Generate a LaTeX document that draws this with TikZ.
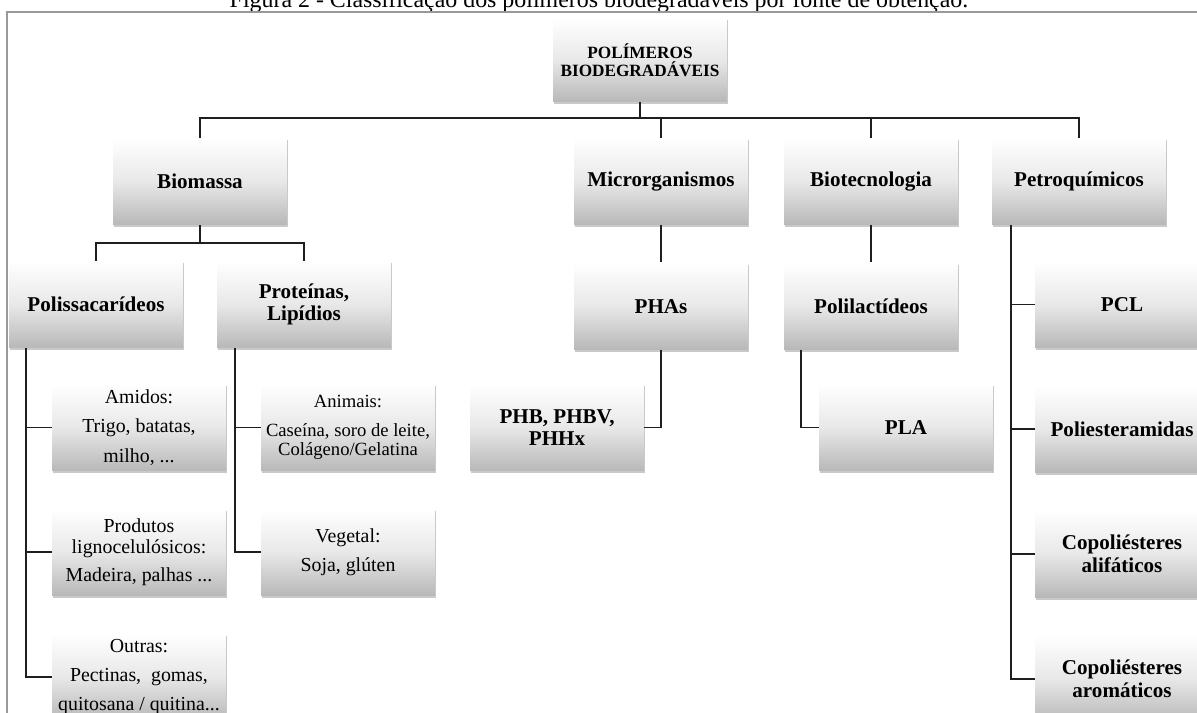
\documentclass[tikz,border=0pt]{standalone}
\usepackage{fontspec}
\setmainfont{Liberation Serif}
\usetikzlibrary{positioning}
\usetikzlibrary{shadows}

\begin{document}
\begin{tikzpicture}[x=0.02cm, y=-0.02cm,
            node distance = 0.74cm,
            box/.style = {rectangle, minimum width=3.48cm, minimum height=1.74cm,
                inner sep=2pt, align=center,
                top color=white, bottom color=black!28, middle color=black!9,
                drop shadow={shadow xshift=0.4pt, shadow yshift=-1.4pt,
                    opacity=0.3, fill=black!70}},
            bold/.style = {box, font=\fontsize{12}{12.8}\selectfont\bfseries},
            plain/.style = {box, font=\fontsize{11.3}{11.6}\selectfont},
            link/.style = {draw=black!88, line width=1.1pt}]
            \useasboundingbox (0,0) rectangle (1197,713);
            \clip (0,0) rectangle (1197,713);
            % caption and frame
            \node[anchor=base, font=\fontsize{13.6}{16}\selectfont] (title) at (599,8)
                {Figura 2 - Classificação dos polímeros biodegradáveis por fonte de obtenção.};
            \draw[black!40, line width=0.6pt] (7,720) -- (7,12) -- (1205,12);
            % first levels
            \node[box, minimum height=1.68cm,
                font=\fontsize{9.8}{10.3}\selectfont\bfseries] (root) at (640,60)
                {POLÍMEROS\\ BIODEGRADÁVEIS};
            \node[bold] (bio) at (200,181.5) {Biomassa};
            \node[bold] (mic) at (661,181.5) {Microrganismos};
            \node[bold] (btc) at (871,181.5) {Biotecnologia};
            \node[bold] (pet) at (1079,181.5) {Petroquímicos};
            \node[bold] (pol) at (96,304.5) {Polissacarídeos};
            \node[bold] (prt) at (304,304.5) {Proteínas,\\ Lipídios};
            \node[bold, below=of mic] (pha) {PHAs};
            \node[bold, below=of btc] (plt) {Polilactídeos};
            \node[bold] (pcl) at (1122,304.5) {PCL};
            % polissacarideos
            \node[plain] (ami) at (139,427.5)
                {Amidos:\\[5pt] Trigo, batatas,\\[5pt] milho, ...};
            \node[plain, below=of ami] (lig)
                {Produtos\\ lignocelulósicos:\\[4.5pt] Madeira, palhas ...};
            \node[plain, below=of lig] (out)
                {Outras:\\[5pt] Pectinas,\ \ gomas,\\[5pt] quitosana / quitina...};
            % proteinas
            \node[box, font=\fontsize{10.6}{11}\selectfont] (ani) at (348,427.5)
                {Animais:\\[5pt] Caseína, soro de leite,\\ Colágeno/Gelatina};
            \node[plain, below=of ani] (veg) {Vegetal:\\[5pt] Soja, glúten};
            % microrganismos, biotecnologia
            \node[bold] (phb) at (557,427.5) {PHB, PHBV,\\ PHHx};
            \node[bold] (pla) at (906,427.5) {PLA};
            % petroquimicos
            \node[bold, below=of pcl] (pea) {Poliesteramidas};
            \node[bold, below=of pea] (cal) {Copoliésteres\\ alifáticos};
            \node[bold, below=of cal] (car) {Copoliésteres\\ aromáticos};
            \draw[link]
                (root.south) -- ++(0,16) -| (bio.north)
                (root.south) -- ++(0,16) -| (mic.north)
                (root.south) -- ++(0,16) -| (btc.north)
                (root.south) -- ++(0,16) -| (pet.north);
            \draw[link]
                (bio.south) -- ++(0,18) -| (pol.north)
                (bio.south) -- ++(0,18) -| (prt.north);
            \draw[link] (mic) -- (pha);
            \draw[link] (btc) -- (plt);
            \draw[link] (pha.south) |- (phb.east);
            \draw[link] ([xshift=0.34cm]plt.south west) |- (pla.west);
            \draw[link]
                ([xshift=0.34cm]pol.south west) |- (ami.west)
                ([xshift=0.34cm]pol.south west) |- (lig.west)
                ([xshift=0.34cm]pol.south west) |- (out.west);
            \draw[link]
                ([xshift=0.36cm]prt.south west) |- (ani.west)
                ([xshift=0.36cm]prt.south west) |- (veg.west);
            \draw[link]
                ([xshift=0.38cm]pet.south west) |- (pcl.west)
                ([xshift=0.38cm]pet.south west) |- (pea.west)
                ([xshift=0.38cm]pet.south west) |- (cal.west)
                ([xshift=0.38cm]pet.south west) |- (car.west);
        \end{tikzpicture}
\end{document}
